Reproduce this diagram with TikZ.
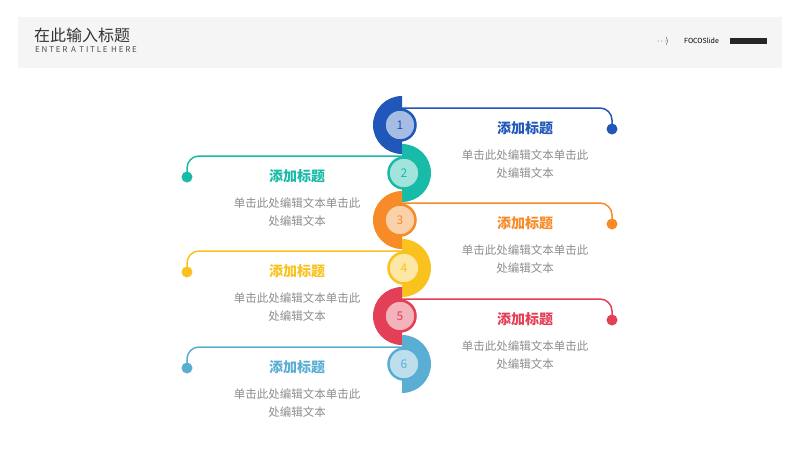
\documentclass[tikz,border=0pt]{standalone}
\usepackage{fontspec}
\setmainfont{Noto Sans CJK SC}
\usepackage{tikz}
\definecolor{cA}{HTML}{2157B8}
\definecolor{cB}{HTML}{17BBA8}
\definecolor{cC}{HTML}{F68B27}
\definecolor{cD}{HTML}{F9C21E}
\definecolor{cE}{HTML}{E33F56}
\definecolor{cF}{HTML}{5AAED3}
\begin{document}
\begin{tikzpicture}[x=1pt,y=-1pt,
  ttl/.style={font=\fontsize{14}{16}\selectfont\bfseries},
  body/.style={font=\fontsize{11.5}{18}\selectfont,text=black!45,align=center}]
\useasboundingbox (0,0) rectangle (800,450);
% header
\fill[black!4] (18,17) rectangle (782,68);
\node[anchor=west,inner sep=0pt,text=black!80] (head) at (34,35) {\fontsize{16}{18}\selectfont 在此输入标题};
\node[anchor=west,inner sep=0pt,text=black!70] (sub) at (35,50) {\fontsize{8}{9}\selectfont E N T E R\ \ A\ \ T I T L E\ \ H E R E};
\node[anchor=west,inner sep=0pt] (arr) at (657,41) {\fontsize{8}{9}\selectfont $\cdots\!\rangle$};
\node[anchor=west,inner sep=0pt] (logo) at (684,41) {\fontsize{7}{8}\selectfont FOCOSlide};
\fill[black!85] (730,38) rectangle (767,44);
% steps
\foreach \i/\c/\y/\s/\w in {1/cA/125/1/198,2/cB/173/-1/203,3/cC/220/1/198,4/cD/268/-1/203,5/cE/316/1/198,6/cF/364/-1/203}{
  \pgfmathsetmacro{\cx}{402-2*\s}
  \fill[\c] (402,\y-29) arc (-90:-90-180*\s:29) -- cycle;
  \draw[\c,line width=1.5pt] (402,\y-17) -- (402+\w*\s,\y-17) arc (-90:-90+90*\s:12) -- ++(0,5);
  \fill[\c] (402+\w*\s+12*\s,\y+4) circle (5.5);
  \draw[\c,line width=2.5pt,fill=\c!40!white] (\cx,\y) circle (15.5);
  \node[text=\c,font=\fontsize{12}{14}\selectfont] (n\i) at (\cx,\y) {\i};
  \node[ttl,text=\c] (t\i) at (411+114*\s,\y+3) {添加标题};
  \node[body,anchor=north] (b\i) at (411+114*\s,\y+21) {单击此处编辑文本单击此\\处编辑文本};
}
\end{tikzpicture}
\end{document}
